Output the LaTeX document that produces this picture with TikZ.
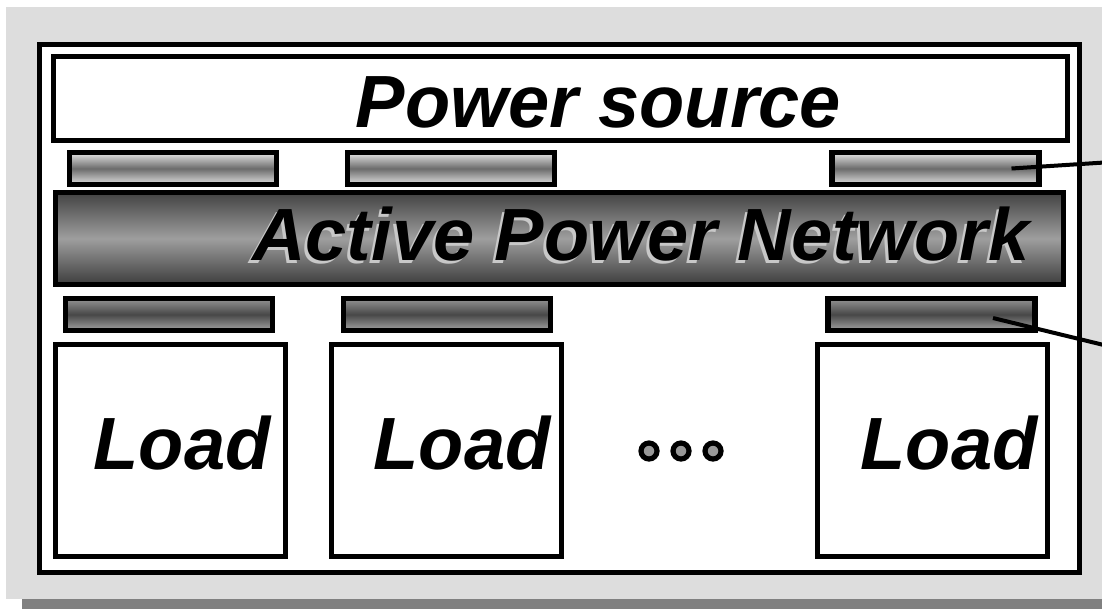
\documentclass[tikz,border=0pt]{standalone}
\usepackage{fontspec}
\setmainfont{Liberation Sans}
\usetikzlibrary{calc}

\definecolor{panelgray}{HTML}{DDDDDD}
\definecolor{panelshadow}{HTML}{808080}
\definecolor{dotgray}{HTML}{999999}
\definecolor{txtshadow}{HTML}{C8C8C8}

\tikzset{
  blackbox/.style={draw=black, line width=3.9pt, fill=white, inner sep=0pt, outer sep=0pt},
  upperbar/.style={blackbox, minimum width=207*0.75pt, minimum height=32*0.75pt,
    top color=black!10, bottom color=black!12, middle color=black!58},
  lowerbar/.style={blackbox, minimum width=207*0.75pt, minimum height=32*0.75pt,
    top color=black!42, bottom color=black!36, middle color=black!72},
  netbox/.style={blackbox, minimum width=1008*0.75pt, minimum height=92*0.75pt,
    top color=black!74, bottom color=black!76, middle color=black!38},
  loadbox/.style={blackbox, minimum width=230*0.75pt, minimum height=212*0.75pt},
  bigtext/.style={inner sep=0pt, anchor=base,
    font=\fontsize{55.5}{60}\selectfont\bfseries\itshape},
  ellipsisdot/.style={circle, draw=black, line width=3.9pt, fill=dotgray,
    minimum size=16*0.75pt, inner sep=0pt},
  link/.style={draw=black, line width=3pt}
}

\begin{document}
\begin{tikzpicture}[x=0.75pt, y=-0.75pt]
  \useasboundingbox (0,0) rectangle (1102,608);
  \clip (0,0) rectangle (1102,608);

  % grey panel with its drop shadow
  \fill[panelshadow] (22,16) rectangle (1120,620);
  \fill[panelgray] (6,7) rectangle (1112,599);

  % outer frame
  \node[blackbox, minimum width=1040*0.75pt, minimum height=528*0.75pt] (frame) at (559.5,308.5) {};

  % power source
  \node[blackbox, minimum width=1014*0.75pt, minimum height=84*0.75pt] (source) at (560.5,98.5) {};
  \node[bigtext] (sourcetext) at (598.5,127) {Power source};

  % upper connectors
  \node[upperbar] (tb1) at (173,168.5) {};
  \node[upperbar] (tb2) at (451,168.5) {};
  \node[upperbar] (tb3) at (935.5,168.5) {};

  % active power network
  \node[netbox] (net) at (559.5,238.5) {};
  \node[bigtext, text=txtshadow] (netshadow) at (638,263) {Active Power Network};
  \node[bigtext] (nettext) at (641,260) {Active Power Network};

  % lower connectors
  \node[lowerbar] (bb1) at (169,314.5) {};
  \node[lowerbar] (bb2) at (447,314.5) {};
  \node[lowerbar] (bb3) at (931.5,314.5) {};

  % loads
  \node[loadbox] (load1) at (170.5,450.5) {};
  \node[loadbox] (load2) at (446.5,450.5) {};
  \node[loadbox] (load3) at (932.5,450.5) {};
  \node[bigtext] (loadtext1) at (182,469) {Load};
  \node[bigtext] (loadtext2) at (462,469) {Load};
  \node[bigtext] (loadtext3) at (949,469) {Load};

  % ellipsis
  \node[ellipsisdot] (dot1) at (649,451) {};
  \node[ellipsisdot] (dot2) at (681,451) {};
  \node[ellipsisdot] (dot3) at (713,451) {};

  % leader lines leaving the panel
  \coordinate (upperend) at (1112,162);
  \coordinate (lowerend) at (1112,347);
  \draw[link] ($(tb3.center)+(76,0)$) -- (upperend);
  \draw[link] ($(bb3.center)+(61.5,3.5)$) -- (lowerend);
\end{tikzpicture}
\end{document}
